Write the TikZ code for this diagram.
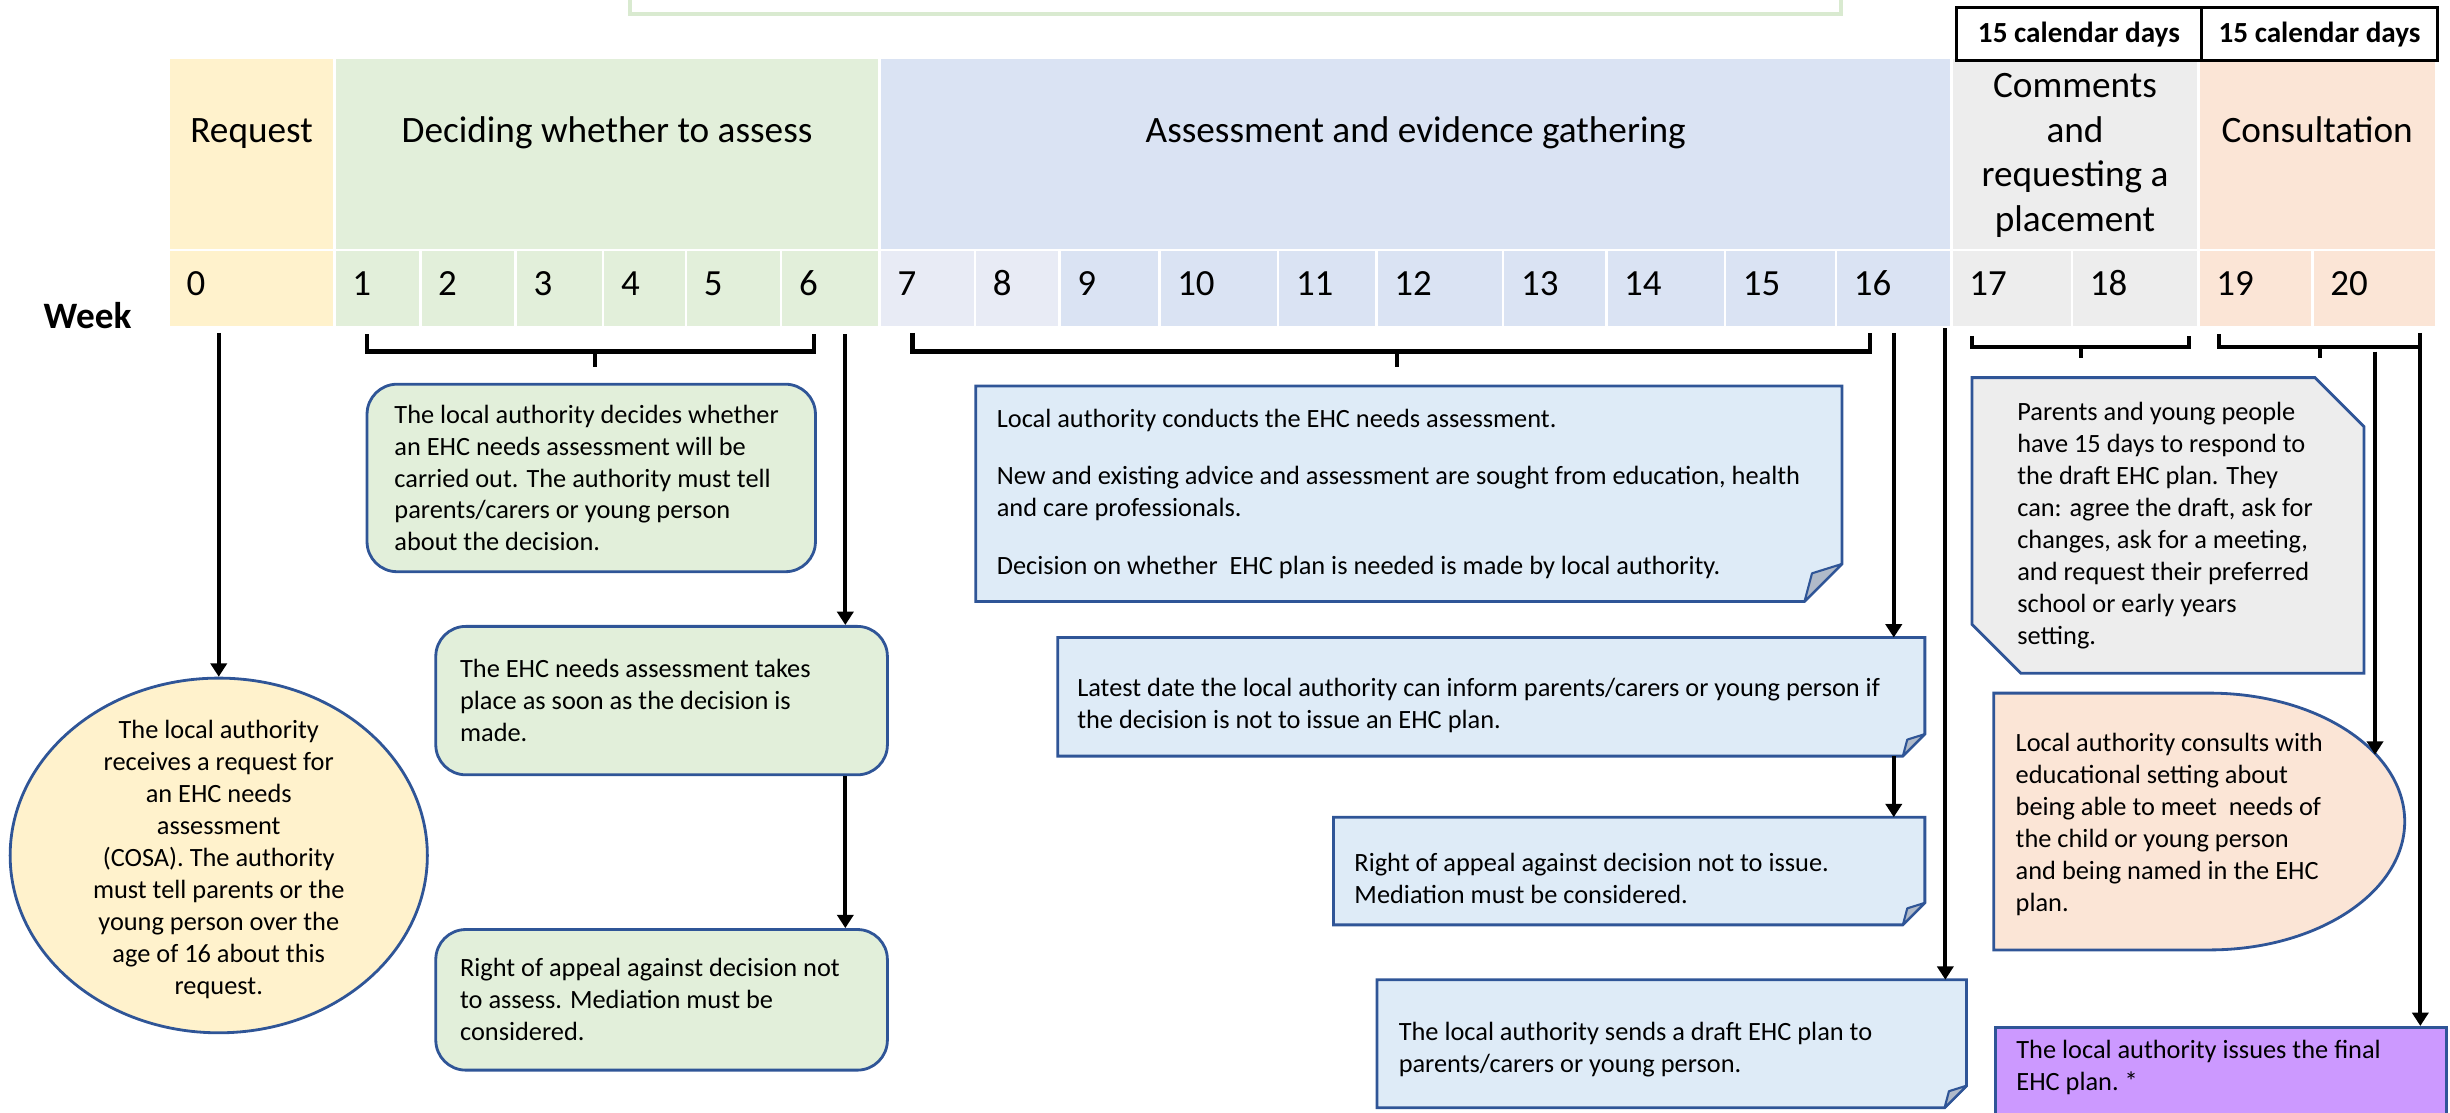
\documentclass[tikz,border=0pt]{standalone}
\usepackage{fontspec}
\setmainfont{Carlito}
\usetikzlibrary{positioning, shapes.geometric, arrows.meta}

\definecolor{reqcol}{HTML}{FFF2CC}
\definecolor{deccol}{HTML}{E2EFDA}
\definecolor{asscol}{HTML}{DAE3F3}
\definecolor{asslight}{HTML}{E8EBF5}
\definecolor{comcol}{HTML}{EDEDED}
\definecolor{concol}{HTML}{FBE5D6}
\definecolor{notecol}{HTML}{DEEBF7}
\definecolor{flapcol}{HTML}{B0BAC9}
\definecolor{finalcol}{HTML}{CC99FF}
\definecolor{bordcol}{HTML}{2F5597}
\definecolor{topgreen}{HTML}{D9EAD0}

\tikzset{
  cell/.style={draw=white, line width=0.7pt},
  hdr/.style={font=\fontsize{10.6}{12.7}\selectfont, align=center, inner sep=0pt},
  weeknum/.style={font=\fontsize{10.5}{12}\selectfont, inner sep=0pt, anchor=base west},
  daybox/.style={draw=black, line width=0.9pt, fill=white, minimum height=0.531cm, inner sep=0pt, anchor=north west, font=\fontsize{8.3}{10}\selectfont\bfseries},
  txt/.style={font=\fontsize{7.5}{9.1}\selectfont, align=left, inner sep=0pt},
  decbox/.style={draw=bordcol, line width=0.8pt, fill=deccol, rounded corners=0.3cm, inner sep=0pt, anchor=north west},
  notebox/.style={fill=notecol, inner sep=0pt, anchor=north west},
  brk/.style={line width=1.2pt},
  arr/.style={line width=1.2pt, -{Triangle[length=3.8pt, width=4.6pt]}},
}

% folded corner of a note node: #1 node, #2 fold size
\newcommand\notefold[2]{%
  \fill[white] ([yshift=#2]#1.south east) -- (#1.south east) -- ([xshift=-#2]#1.south east) -- cycle;
  \draw[bordcol, line width=0.8pt] (#1.north west) -- (#1.north east) -- ([yshift=#2]#1.south east) -- ([xshift=-#2]#1.south east) -- (#1.south west) -- cycle;
  \filldraw[fill=flapcol, draw=bordcol, line width=0.6pt, line join=round] ([yshift=#2]#1.south east) -- ([xshift=-#2]#1.south east) -- ([xshift=-0.8*#2, yshift=0.75*#2]#1.south east) -- cycle;
}

\begin{document}
\begin{tikzpicture}[x=0.015625cm, y=-0.015625cm]
  \useasboundingbox (0,0) rectangle (1568,711.7);

  % box cut off at the top
  \draw[topgreen, line width=1.1pt, fill=white] (403,-40) rectangle (1178,9);

  % phases
  \path[cell, fill=reqcol] (108,37) rectangle (214,160);
  \path[cell, fill=deccol] (214,37) rectangle (563,160);
  \path[cell, fill=asscol] (563,37) rectangle (1249,160);
  \path[cell, fill=comcol] (1249,37) rectangle (1407,160);
  \path[cell, fill=concol] (1407,37) rectangle (1559,160);

  \node[hdr, anchor=base] (hreq) at (161,91) {Request};
  \node[hdr, anchor=base] (hdec) at (388.5,91) {Deciding whether to assess};
  \node[hdr, anchor=base] (hass) at (906,91) {Assessment and evidence gathering};
  \node[hdr] (hcom) at (1328,99.5) {Comments\\and\\requesting a\\placement};
  \node[hdr, anchor=base] (hcon) at (1483,91) {Consultation};

  \node[daybox, minimum width=2.453cm] (cd1) at (1251,4) {15 calendar days};
  \node[daybox, minimum width=2.359cm] (cd2) at (1408,4) {15 calendar days};

  % weeks
  \foreach \wk/\xa/\xb/\cl in {0/108/214/reqcol, 1/214/269/deccol, 2/269/330/deccol, 3/330/386/deccol,
      4/386/439/deccol, 5/439/500/deccol, 6/500/563/deccol, 7/563/624/asslight, 8/624/678/asslight,
      9/678/742/asscol, 10/742/818/asscol, 11/818/881/asscol, 12/881/962/asscol, 13/962/1028/asscol,
      14/1028/1104/asscol, 15/1104/1175/asscol, 16/1175/1249/asscol, 17/1249/1326/comcol,
      18/1326/1407/comcol, 19/1407/1480/concol, 20/1480/1559/concol}{
    \path[cell, fill=\cl] (\xa,160) rectangle (\xb,209.5);
    \node[weeknum] (w\wk) at (\xa+11,189) {\wk};
  }
  \node[font=\fontsize{10.6}{12}\selectfont\bfseries, anchor=base west, inner sep=0pt] (week) at (27.5,210.5) {Week};

  % brackets
  \draw[brk] (235,214) -- (235,225) -- (521,225) -- (521,214) (381,225) -- (381,235);
  \draw[brk] (584,213) -- (584,225) -- (1197,225) -- (1197,213) (894,225) -- (894,235);
  \draw[brk] (1262,215) -- (1262,222) -- (1401,222) -- (1401,215) (1332,222) -- (1332,229);
  \draw[brk] (1420,214) -- (1420,222) -- (1548.5,222) (1485,222) -- (1485,229);

  % request
  \node[ellipse, draw=bordcol, line width=0.8pt, fill=reqcol, minimum width=4.172cm, minimum height=3.547cm, inner sep=0pt] (cosa) at (140,547.5) {};
  \node[txt, align=center] (cosatext) at (140,550) {The local authority\\receives a request for\\an EHC needs\\assessment\\(COSA).  The authority\\must tell parents or the\\young person over the\\age of 16 about this\\request.};

  % deciding
  \node[decbox, minimum width=4.484cm, minimum height=1.875cm] (d1) at (234,245) {};
  \node[txt, right=0.281cm of d1.west] (d1t) {The local authority decides whether\\an EHC needs assessment will be\\carried out.  The authority must tell\\parents/carers or young person\\about the decision.};
  \node[decbox, minimum width=4.516cm, minimum height=1.484cm] (d2) at (278,400) {};
  \node[txt, right=0.25cm of d2.west] (d2t) {The EHC needs assessment takes\\place as soon as the decision is\\made.};
  \node[decbox, minimum width=4.516cm, minimum height=1.406cm] (d3) at (278,594) {};
  \node[txt, right=0.25cm of d3.west] (d3t) {Right of appeal against decision not\\to assess.  Mediation must be\\considered.};

  % assessment
  \node[notebox, minimum width=8.648cm, minimum height=2.141cm] (a1) at (624.5,247) {};
  \notefold{a1}{0.375cm}
  \node[txt, right=0.203cm of a1.west] (a1t) {Local authority conducts the EHC needs assessment.\\[7.3pt]New and existing advice and assessment are sought from education, health\\and care professionals.\\[7.3pt]Decision on whether~ EHC plan is needed is made by local authority.};
  \node[notebox, minimum width=8.656cm, minimum height=1.172cm] (a2) at (677,408) {};
  \notefold{a2}{0.22cm}
  \node[txt, right=0.1875cm of a2.west, yshift=-0.09cm] (a2t) {Latest date the local authority can inform parents/carers or young person if\\the decision is not to issue an EHC plan.};
  \node[notebox, minimum width=5.9cm, minimum height=1.0625cm] (a3) at (853.4,523) {};
  \notefold{a3}{0.22cm}
  \node[txt, right=0.203cm of a3.west, yshift=-0.07cm] (a3t) {Right of appeal against decision not to issue.\\Mediation must be considered.};
  \node[notebox, minimum width=5.881cm, minimum height=1.266cm] (a4) at (881.3,627) {};
  \notefold{a4}{0.22cm}
  \node[txt, right=0.21cm of a4.west, yshift=-0.06cm] (a4t) {The local authority sends a draft EHC plan to\\parents/carers or young person.};

  % comments, corners cut off top right and bottom left
  \node[minimum width=3.906cm, minimum height=2.942cm, inner sep=0pt, anchor=north west] (c1) at (1262,241.7) {};
  \filldraw[draw=bordcol, line width=0.8pt, fill=comcol] (c1.north west) -- ([xshift=-0.49cm]c1.north east) -- ([yshift=-0.49cm]c1.north east) -- (c1.south east) -- ([xshift=0.49cm]c1.south west) -- ([yshift=0.49cm]c1.south west) -- cycle;
  \node[txt, right=0.447cm of c1.west] (c1t) {Parents and young people\\have 15 days to respond to\\the draft EHC plan.  They\\can: agree the draft, ask for\\changes, ask for a meeting,\\and request their preferred\\school or early years\\setting.};

  % consultation
  \draw[bordcol, line width=0.8pt, fill=concol] (1276,443.6) -- (1414,443.6) arc[start angle=90, end angle=-90, x radius=1.953cm, y radius=1.284cm] -- (1276,608) -- cycle;
  \node[txt, anchor=west] (lac) at (1289.6,527.9) {Local authority consults with\\educational setting about\\being able to meet~ needs of\\the child or young person\\and being named in the EHC\\plan.};
  \coordinate (lacin) at (1520,483);

  \node[draw=bordcol, line width=0.8pt, fill=finalcol, minimum width=4.511cm, minimum height=0.928cm, inner sep=0pt, anchor=north west] (fin) at (1276,656.6) {};
  \node[txt, right=0.219cm of fin.west, yshift=0.06cm] (fint) {The local authority issues the final\\EHC plan.\ *};

  % arrows
  \coordinate (t0) at (140,213);
  \coordinate (t6) at (541,214);
  \coordinate (t16) at (1212,213);
  \coordinate (t17) at (1245,210);
  \coordinate (t19) at (1520,225);
  \coordinate (t20) at (1549,213);

  \draw[arr] (t0) -- (cosa.north);
  \draw[arr] (t6) -- (t6 |- d2.north);
  \draw[arr] (d2.south -| t6) -- (d3.north -| t6);
  \draw[arr] (t16) -- (t16 |- a2.north);
  \draw[arr] (a2.south -| t16) -- (a3.north -| t16);
  \draw[arr] (t17) -- (t17 |- a4.north);
  \draw[arr] (t19) -- (lacin);
  \draw[arr] (t20) -- (t20 |- fin.north);
\end{tikzpicture}
\end{document}
